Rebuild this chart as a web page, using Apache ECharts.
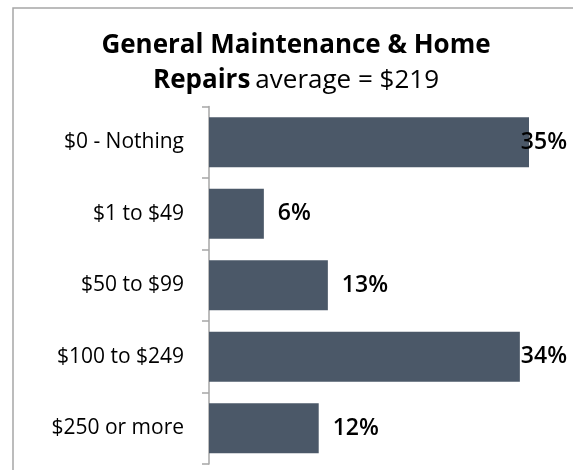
<!DOCTYPE html>
<html>
<head>
<meta charset="utf-8">
<script src="https://cdn.jsdelivr.net/npm/echarts@6/dist/echarts.min.js"></script>
<style>
  html, body { margin: 0; padding: 0; background: #fff; }
  #chart { width: 573px; height: 470px; }
</style>
</head>
<body>
<div id="chart"></div>
<script>
var categories = ['$0 - Nothing', '$1 to $49', '$50 to $99', '$100 to $249', '$250 or more'];
var shares = [35, 6, 13, 34, 12];
var titleBold1 = 'General Maintenance & Home';
var titleBold2 = 'Repairs';
var titleRest = 'average = $219';

var FONT = 'Open Sans';
var labelFont = '600 23px "' + FONT + '"';
var labelCap = 567; // labels never run past this x

var chart = echarts.init(document.getElementById('chart'));

var option = {
  animation: false,
  title: {
    left: 291,
    top: 23,
    textAlign: 'center',
    text: '{b|' + titleBold1 + '}\n{b|' + titleBold2 + '} {n|' + titleRest + '}',
    textStyle: {
      rich: {
        b: { fontFamily: FONT, fontWeight: 'bold', fontSize: 26, color: '#000', lineHeight: 35 },
        n: { fontFamily: FONT, fontWeight: 'normal', fontSize: 26, color: '#000', lineHeight: 35 }
      }
    }
  },
  graphic: [{
    type: 'rect',
    shape: { x: 13, y: 8, width: 600, height: 500 },
    style: { fill: 'none', stroke: '#a6a6a6', lineWidth: 1.5 },
    silent: true
  }],
  grid: { left: 209, right: 44, top: 106.5, bottom: 6 },
  xAxis: {
    type: 'value',
    min: 0,
    max: 35,
    show: false
  },
  yAxis: {
    type: 'category',
    inverse: true,
    data: categories,
    axisLine: { show: true, lineStyle: { color: '#a6a6a6', width: 1.5 } },
    axisTick: { show: true, alignWithLabel: false, length: 7, lineStyle: { color: '#a6a6a6', width: 1.5 } },
    axisLabel: { fontFamily: FONT, fontSize: 21, color: '#000', margin: 25 }
  },
  series: [{
    type: 'bar',
    data: shares,
    barCategoryGap: '30%',
    itemStyle: { color: '#4b5868' },
    label: {
      show: true,
      position: 'right',
      distance: 14,
      formatter: '{c}%',
      fontFamily: FONT,
      fontWeight: 600,
      fontSize: 23,
      color: '#000'
    }
  }]
};
chart.setOption(option);

// pull labels back where they would run past the cap
var ctx = document.createElement('canvas').getContext('2d');
ctx.font = labelFont;
var items = shares.map(function (v, i) {
  var end = chart.convertToPixel({ seriesIndex: 0 }, [v, i])[0];
  var w = ctx.measureText(v + '%').width;
  var over = end + 14 + w - labelCap;
  return over > 0 ? { value: v, label: { offset: [-over, 0] } } : v;
});
chart.setOption({ series: [{ data: items }] });
</script>
</body>
</html>
